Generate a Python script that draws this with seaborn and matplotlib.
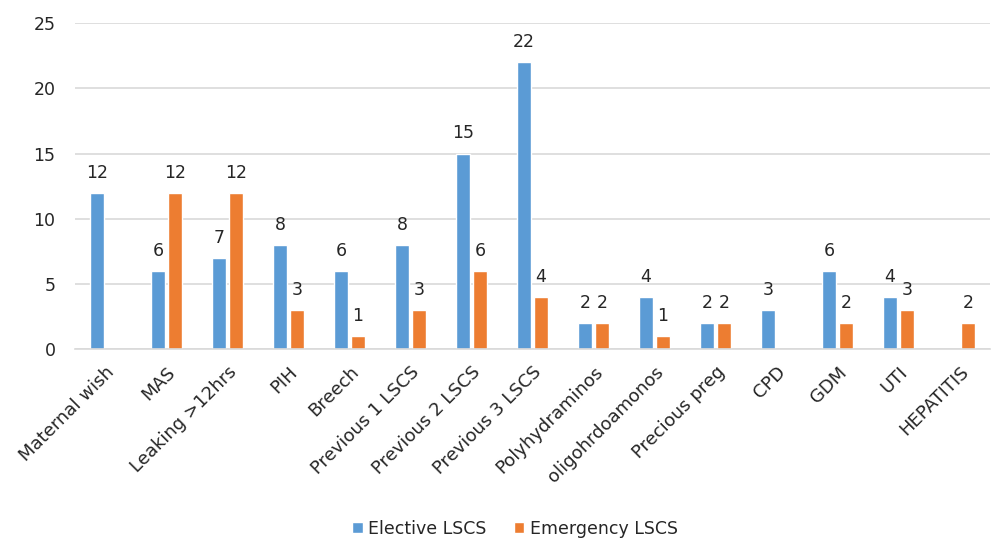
import numpy as np
import pandas as pd
import matplotlib
matplotlib.use("Agg")
import matplotlib.pyplot as plt
import seaborn as sns

categories = ["Maternal wish", "MAS", "Leaking >12hrs", "PIH", "Breech",
              "Previous 1 LSCS", "Previous 2 LSCS", "Previous 3 LSCS",
              "Polyhydraminos", "oligohrdoamonos", "Precious preg", "CPD",
              "GDM", "UTI", "HEPATITIS"]
elective = [12, 6, 7, 8, 6, 8, 15, 22, 2, 4, 2, 3, 6, 4, np.nan]
emergency = [np.nan, 12, 12, 3, 1, 3, 6, 4, 2, 1, 2, np.nan, 2, 3, 2]
series = ["Elective LSCS", "Emergency LSCS"]
colors = ["#5B9BD5", "#ED7D31"]

sns.set_theme(style="white")
plt.rcParams["font.family"] = ["DejaVu Sans"]

df = pd.DataFrame({
    "category": categories * 2,
    "series": [series[0]] * len(categories) + [series[1]] * len(categories),
    "value": list(elective) + list(emergency),
})
df = df.dropna()

fig = plt.figure(figsize=(9.94, 5.38), dpi=100)
ax = fig.add_axes([0.0755, 0.351, 0.9205, 0.606])

sns.barplot(data=df, x="category", y="value", hue="series", order=categories,
            hue_order=series, palette=colors, width=0.56, gap=0.18,
            saturation=1, ax=ax, errorbar=None, legend=True)

for cont in ax.containers:
    labels = [f"{v:g}" if v > 0 else "" for v in cont.datavalues]
    ax.bar_label(cont, labels=labels, padding=8, fontsize=12.5, color="#262626")

ax.set_ylim(0, 25)
ax.set_yticks(range(0, 26, 5))
ax.set_xlim(-0.5, len(categories) - 0.5)
ax.yaxis.grid(True, color="#D9D9D9", linewidth=1.2)
ax.set_axisbelow(True)
for s in ["top", "right", "left"]:
    ax.spines[s].set_visible(False)
ax.spines["bottom"].set_color("#D9D9D9")
ax.spines["bottom"].set_linewidth(1.2)
ax.set_xlabel("")
ax.set_ylabel("")
ax.tick_params(axis="both", length=0, labelsize=12.5, colors="#262626")
ax.tick_params(axis="y", pad=14)
ax.tick_params(axis="x", pad=10, labelsize=13)
plt.setp(ax.get_xticklabels(), rotation=45, ha="right", rotation_mode="anchor")

handles, labels = ax.get_legend_handles_labels()
ax.get_legend().remove()
fig.legend(handles, labels, loc="lower center", bbox_to_anchor=(0.518, -0.012),
           ncol=2, frameon=False, fontsize=12.5, handlelength=0.6,
           handleheight=0.6, handletextpad=0.3, columnspacing=1.6,
           borderaxespad=0)

fig.savefig("out.png", dpi=100)
